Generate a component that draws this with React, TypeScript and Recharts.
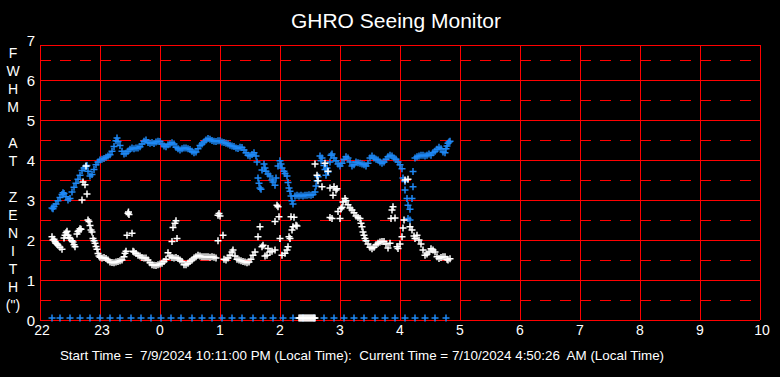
import { ScatterChart, Scatter, XAxis, YAxis, ReferenceLine } from "recharts"

const BLUE = "#1E88F5"
const RED = "#FF0000"
const WHITE = "#FFFFFF"

// t = minutes after 22:00, v = FWHM in arcsec

const blueEvening: [number, number][] = [
  [12, 2.8], [13, 2.78], [14, 2.84], [16, 2.9], [18, 2.98], [20, 3.06], [22, 3.14], [23, 3.18], [24, 3.16],
  [26, 3.08], [28, 3.0], [30, 3.04], [32, 3.2], [34, 3.32], [36, 3.42], [38, 3.52], [40, 3.62], [42, 3.74],
  [44, 3.8], [46, 3.84], [47, 3.86], [48, 3.72], [50, 3.6], [52, 3.64], [54, 3.76], [56, 3.88], [58, 3.95],
  [60, 4.0], [62, 4.02], [64, 4.04], [66, 4.07], [68, 4.1], [70, 4.13], [72, 4.22], [74, 4.34], [76, 4.48],
  [77, 4.55], [78, 4.46], [80, 4.36], [82, 4.22], [84, 4.15], [86, 4.17], [88, 4.22], [90, 4.27], [92, 4.3],
  [94, 4.28], [96, 4.3], [98, 4.3], [100, 4.33], [102, 4.4], [104, 4.47], [106, 4.5], [108, 4.44], [110, 4.42],
  [112, 4.44], [114, 4.41], [116, 4.45], [118, 4.47], [120, 4.46], [122, 4.4], [124, 4.35], [126, 4.33],
  [128, 4.38], [130, 4.4], [132, 4.43], [134, 4.4], [136, 4.32], [138, 4.28], [140, 4.25], [142, 4.28],
  [144, 4.3], [146, 4.3], [148, 4.28], [150, 4.26], [152, 4.22], [154, 4.18], [156, 4.2], [158, 4.28],
  [160, 4.36], [162, 4.4], [164, 4.45], [166, 4.5], [168, 4.54], [170, 4.52], [172, 4.49], [174, 4.47],
  [176, 4.46], [178, 4.48], [180, 4.48], [182, 4.45], [184, 4.44], [186, 4.42], [188, 4.4], [190, 4.37],
  [192, 4.35], [194, 4.34], [196, 4.3], [198, 4.29], [200, 4.32], [202, 4.31], [204, 4.25], [206, 4.18],
  [208, 4.12], [210, 4.1], [212, 4.14], [214, 4.18], [216, 4.1],
]

const blueBreak: [number, number][] = [
  [217, 3.95], [218, 3.55], [219, 3.42], [220, 3.3], [221, 3.27], [222, 3.75], [224, 3.9], [225, 3.8],
  [226, 3.72], [228, 3.65], [230, 3.6], [232, 3.5], [233, 3.45], [235, 3.37], [236, 3.55], [238, 3.85],
  [240, 3.98], [241, 3.9], [242, 3.8], [244, 3.72], [245, 3.66], [247, 3.6], [248, 3.44], [249, 3.3],
  [250, 3.22], [251, 3.1], [252, 2.98], [253, 2.9],
]

const blueFlat: [number, number][] = [
  [255, 3.1], [257, 3.12], [259, 3.1], [261, 3.12], [263, 3.1], [265, 3.12], [267, 3.12], [269, 3.13],
  [271, 3.12], [273, 3.14], [275, 3.2], [276, 3.35], [277, 3.48], [278, 3.58],
]

const blueMorning: [number, number][] = [
  [280, 4.1], [281, 3.98], [282, 4.05], [284, 3.86], [285, 3.76], [286, 3.62], [287, 3.8], [288, 3.7],
  [290, 3.95], [291, 4.12], [292, 4.15], [294, 4.05], [296, 3.98], [298, 3.9], [300, 3.85], [302, 3.92],
  [304, 4.02], [306, 4.08], [308, 4.05], [310, 3.95], [312, 3.85], [314, 3.88], [316, 3.95], [318, 3.93],
  [320, 3.92], [322, 3.9], [324, 3.88], [326, 3.85], [328, 3.92], [330, 4.05], [332, 4.1], [334, 4.05],
  [336, 4.02], [338, 4.0], [340, 3.95], [342, 3.92], [344, 3.95], [346, 4.02], [348, 4.08], [350, 4.12],
  [352, 4.1], [354, 4.05], [356, 4.02], [358, 3.95], [360, 3.88], [362, 3.78],
]

const blueDrop: [number, number][] = [
  [363, 3.55], [365, 3.46], [365, 3.25], [367, 3.04], [368, 2.87], [370, 2.77], [368, 2.54], [370, 2.5],
  [372, 3.04], [373, 3.33], [373, 3.71],
]

const blueDawn: [number, number][] = [
  [375, 4.05], [377, 4.08], [379, 4.1], [381, 4.12], [383, 4.12], [385, 4.1], [387, 4.12], [389, 4.15],
  [391, 4.12], [393, 4.18], [395, 4.22], [397, 4.27], [399, 4.32], [401, 4.28], [403, 4.2], [405, 4.18],
  [406, 4.28], [407, 4.35], [408, 4.42], [409, 4.45], [410, 4.47],
]

const whiteEvening: [number, number][] = [
  [12, 2.08], [13, 2.0], [14, 2.02], [15, 1.96], [16, 1.92], [17, 1.9], [18, 1.87], [20, 1.82], [22, 1.77],
  [24, 2.05], [25, 2.12], [26, 2.18], [27, 2.22], [28, 2.12], [29, 2.06], [30, 2.04], [32, 1.98], [33, 1.95],
  [34, 1.88], [35, 1.83], [37, 2.15], [38, 2.21], [39, 2.24], [40, 2.28], [41, 2.27], [51, 2.25], [52, 2.2],
  [53, 2.04], [54, 1.98], [55, 1.92], [56, 1.84], [57, 1.77], [58, 1.66], [59, 1.6], [60, 1.57], [62, 1.55],
  [64, 1.56], [66, 1.54], [68, 1.5], [70, 1.45], [72, 1.44], [74, 1.43], [76, 1.45], [78, 1.46], [80, 1.48],
  [82, 1.5], [84, 1.58], [85, 1.67], [86, 1.72], [93, 1.72], [94, 1.7], [96, 1.66], [98, 1.62], [100, 1.6],
  [102, 1.56], [104, 1.55], [106, 1.55], [108, 1.5], [110, 1.43], [112, 1.38], [114, 1.37], [116, 1.36],
  [118, 1.38], [120, 1.4], [122, 1.42], [124, 1.46], [126, 1.52], [128, 1.68], [130, 1.6], [132, 1.56],
  [134, 1.55], [136, 1.56], [138, 1.54], [140, 1.5], [142, 1.46], [144, 1.38], [146, 1.38], [148, 1.42],
  [150, 1.46], [152, 1.5], [154, 1.55], [156, 1.58], [158, 1.62], [160, 1.6], [162, 1.58], [164, 1.58],
  [166, 1.58], [168, 1.58], [170, 1.57], [172, 1.58], [174, 1.57], [176, 1.55], [184, 1.52], [186, 1.5],
  [188, 1.55], [190, 1.62], [192, 1.7], [193, 1.75], [195, 1.6], [197, 1.52], [199, 1.5], [201, 1.48],
  [203, 1.46], [205, 1.45], [207, 1.43], [209, 1.45], [211, 1.52], [213, 1.62], [215, 1.7],
]

const whiteStray: [number, number][] = [
  [42, 3.0], [43, 3.45], [45, 3.38], [46, 3.85], [47, 3.15], [48, 2.5], [49, 2.46], [50, 2.36], [87, 2.12],
  [88, 2.67], [88.5, 2.7], [89, 2.64], [92, 2.17], [132, 1.96], [133, 2.31], [135, 2.42], [136, 2.48],
  [137, 2.04], [178, 1.98], [178, 2.62], [179, 2.66], [180, 2.6], [183, 2.12],
]

const whiteBreak: [number, number][] = [
  [218, 2.08], [220, 2.33], [222, 1.83], [223, 1.87], [225, 1.6], [227, 1.62], [228, 1.79], [230, 1.7],
  [232, 1.72], [235, 1.75], [235, 2.46], [237, 2.87], [238, 2.83], [239, 2.58], [240, 2.04], [242, 1.62],
  [245, 1.67], [247, 1.75], [248, 1.83], [249, 2.08], [250, 2.04], [251, 2.58], [252, 2.25], [253, 2.33],
  [254, 2.57], [256, 2.37], [257, 2.35],
]

const whiteMorning: [number, number][] = [
  [275, 3.9], [277, 3.62], [278, 3.48], [282, 3.33], [285, 3.92], [288, 3.72], [290, 3.3], [290, 2.56],
  [292, 2.54], [293, 3.12], [294, 3.33], [296, 3.25], [297, 3.28], [298, 2.71], [300, 2.54], [301, 2.78],
  [302, 2.82], [303, 2.95], [305, 3.04], [306, 2.98], [308, 2.88], [310, 2.8], [312, 2.75], [314, 2.68],
  [316, 2.6], [318, 2.56], [320, 2.54], [321, 2.42], [322, 2.33], [323, 2.2], [324, 2.12], [325, 2.04],
  [326, 1.98], [328, 1.9], [330, 1.82], [332, 1.78], [334, 1.82], [336, 1.88], [338, 1.92], [340, 1.95],
  [342, 1.96], [344, 1.96], [346, 1.9], [348, 1.8], [350, 1.92], [351, 2.54], [352, 2.75], [353, 2.83],
  [355, 2.55], [357, 1.83], [358, 1.79], [360, 1.9], [362, 2.08], [363, 2.3], [364, 2.5], [365, 3.5],
  [368, 3.52], [370, 2.33], [372, 2.25], [374, 2.1], [375, 2.04], [377, 2.12], [379, 2.0], [381, 1.9],
  [383, 1.75], [385, 1.62], [387, 1.65], [389, 1.7], [391, 1.78], [393, 1.75], [395, 1.7], [397, 1.58],
  [399, 1.54], [401, 1.56], [403, 1.58], [405, 1.58], [407, 1.52], [408, 1.5], [410, 1.53],
]

// markers sitting on the zero line
const blueZeroTimes = [
  12, 20, 30, 40, 50, 60, 70, 80, 91, 101, 111, 121, 131, 141, 152, 162, 172, 182, 192, 202, 213, 223, 233,
  243, 253, 263, 274, 284, 294, 304, 314, 324, 335, 345, 355, 365, 375, 385, 395, 406,
]
const whiteZeroTimes = [259, 260, 261, 262, 263, 264, 265, 266, 267, 268, 269, 270, 271, 272, 273, 274, 275]
const ZERO_LEVEL = 0.05

const hourLabels = ["22", "23", "0", "1", "2", "3", "4", "5", "6", "7", "8", "9", "10"]
const hourTicks = [0, 60, 120, 180, 240, 300, 360, 420, 480, 540, 600, 660, 720]
const yTicks = [0, 1, 2, 3, 4, 5, 6, 7]
const solidLevels = [1, 2, 3, 4, 5, 6]
const dashedLevels = [0.5, 1.5, 2.5, 3.5, 4.5, 5.5, 6.5]
const TOP = 6.875

const yLabelLines = ["F", "W", "H", "M", "", "A", "T", "", "Z", "E", "N", "I", "T", "H", "(\")"]

const FONT = "Arial, 'Liberation Sans', sans-serif"

const toPts = (arr: [number, number][]) => arr.map(([t, v]) => ({ t, v }))

function plus(color: string) {
  // eslint-disable-next-line @typescript-eslint/no-explicit-any
  return (props: any) => {
    const { cx, cy } = props
    if (cx == null || cy == null) return <g />
    return (
      <path
        d={`M${cx - 3.5},${cy}H${cx + 3.5}M${cx},${cy - 3.5}V${cy + 3.5}`}
        stroke={color}
        strokeWidth={1.5}
        fill="none"
      />
    )
  }
}

// eslint-disable-next-line @typescript-eslint/no-explicit-any
function XTick({ x, payload }: any) {
  const label = hourLabels[hourTicks.indexOf(payload.value)] ?? ""
  return (
    <text x={x + (label.length === 2 ? 2 : 0)} y={335} textAnchor="middle" fill={WHITE} fontSize={14} fontFamily={FONT}>
      {label}
    </text>
  )
}

// eslint-disable-next-line @typescript-eslint/no-explicit-any
function YTick({ y, payload }: any) {
  return (
    <text x={35} y={y + 5.5} textAnchor="end" fill={WHITE} fontSize={15} fontFamily={FONT}>
      {payload.value}
    </text>
  )
}

const blueSeries = [blueEvening, blueBreak, blueFlat, blueMorning, blueDrop, blueDawn]
const whiteSeries = [whiteEvening, whiteStray, whiteBreak, whiteMorning]

export default function App() {
  return (
    <div style={{ position: "absolute", left: 0, top: 0, width: 780, height: 377, background: "#000" }}>
      <ScatterChart width={780} height={377} margin={{ top: 40, right: 20, bottom: 37, left: 0 }}>
        <XAxis
          dataKey="t"
          type="number"
          domain={[0, 720]}
          ticks={hourTicks}
          interval={0}
          axisLine={false}
          tickLine={false}
          height={20}
          tick={<XTick />}
        />
        <YAxis
          dataKey="v"
          type="number"
          domain={[0, 7]}
          ticks={yTicks}
          interval={0}
          axisLine={false}
          tickLine={false}
          width={40}
          tick={<YTick />}
        />
        <Scatter
          data={blueZeroTimes.map((t) => ({ t, v: ZERO_LEVEL }))}
          shape={plus(BLUE)}
          isAnimationActive={false}
        />
        {blueSeries.map((s, i) => (
          <Scatter key={`b${i}`} data={toPts(s)} shape={plus(BLUE)} isAnimationActive={false} />
        ))}
        {whiteSeries.map((s, i) => (
          <Scatter key={`w${i}`} data={toPts(s)} shape={plus(WHITE)} isAnimationActive={false} />
        ))}
        <Scatter
          data={whiteZeroTimes.map((t) => ({ t, v: ZERO_LEVEL }))}
          shape={plus(WHITE)}
          isAnimationActive={false}
        />
        {dashedLevels.map((v) => (
          <ReferenceLine key={`d${v}`} y={v} stroke={RED} strokeWidth={1} strokeDasharray="11 9" shapeRendering="crispEdges" />
        ))}
        {solidLevels.map((v) => (
          <ReferenceLine key={`s${v}`} y={v} stroke={RED} strokeWidth={1} shapeRendering="crispEdges" />
        ))}
        {hourTicks.map((t) => (
          <ReferenceLine
            key={`v${t}`}
            segment={[{ x: t, y: 0 }, { x: t, y: TOP }]}
            stroke={RED}
            strokeWidth={1}
            shapeRendering="crispEdges"
          />
        ))}
        <ReferenceLine y={TOP} stroke={RED} strokeWidth={1} shapeRendering="crispEdges" />
        <ReferenceLine y={0} stroke={RED} strokeWidth={1} shapeRendering="crispEdges" />
      </ScatterChart>
      <svg width={780} height={377} style={{ position: "absolute", left: 0, top: 0, pointerEvents: "none" }}>
        <text x={396} y={28} textAnchor="middle" fill={WHITE} fontSize={21} fontFamily={FONT}>
          GHRO Seeing Monitor
        </text>
        {yLabelLines.map((c, i) => (
          <text key={i} x={13} y={58 + i * 18} textAnchor="middle" fill={WHITE} fontSize={14} fontFamily={FONT}>
            {c}
          </text>
        ))}
        <text x={362} y={360} textAnchor="middle" fill={WHITE} fontSize={13.4} fontFamily={FONT} xmlSpace="preserve">
          Start Time =  7/9/2024 10:11:00 PM (Local Time):  Current Time = 7/10/2024 4:50:26  AM (Local Time)
        </text>
      </svg>
    </div>
  )
}
